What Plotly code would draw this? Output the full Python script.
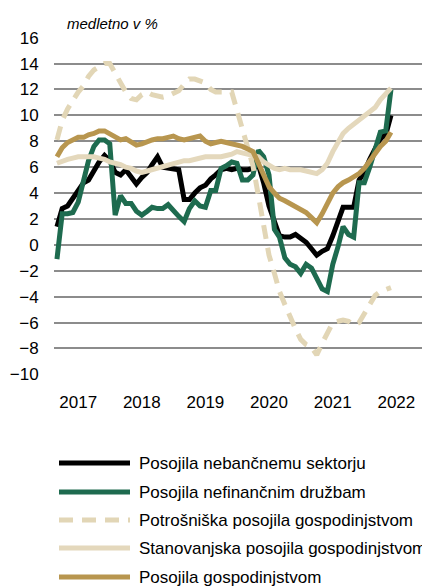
import plotly.graph_objects as go
import pandas as pd

# monthly observations, Sep 2016 - Dec 2021
months = pd.date_range("2016-09-01", periods=64, freq="MS").strftime("%Y-%m-%d").tolist()

year_ticks = ["2017-01-01", "2018-01-01", "2019-01-01", "2020-01-01", "2021-01-01", "2022-01-01"]
year_labels = ["2017", "2018", "2019", "2020", "2021", "2022"]
y_ticks = [-10, -8, -6, -4, -2, 0, 2, 4, 6, 8, 10, 12, 14, 16]

names = [
    "Posojila nebančnemu sektorju",
    "Posojila nefinančnim družbam",
    "Potrošniška posojila gospodinjstvom",
    "Stanovanjska posojila gospodinjstvom",
    "Posojila gospodinjstvom",
]

nebancni = [1.4, 2.8, 3.0, 3.6, 4.1, 4.8, 5.0, 5.8, 6.4, 6.9, 6.5, 5.6, 5.4, 5.8, 5.2, 4.7,
            5.2, 5.6, 6.2, 6.8, 6.0, 5.9, 5.9, 5.8, 3.5, 3.5, 4.0, 4.4, 4.6, 5.1, 5.4, 5.8,
            5.9, 5.8, 5.9, 5.8, 5.8, 5.9, 6.2, 4.8, 3.0, 1.8, 0.7, 0.6, 0.6, 0.8, 0.5, 0.2,
            -0.3, -0.8, -0.5, -0.3, 0.7, 2.0, 2.9, 2.9, 2.9, 5.0, 5.6, 6.6, 7.5, 8.2, 8.5, 10.0]

nefinancne = [-1.1, 2.4, 2.4, 2.5, 3.3, 4.8, 6.5, 7.6, 8.1, 8.1, 7.8, 2.3, 3.8, 3.2, 3.2, 2.6,
              2.3, 2.6, 2.9, 2.8, 2.8, 3.1, 2.6, 2.2, 1.8, 2.8, 3.4, 3.0, 2.9, 4.2, 4.2, 5.9,
              6.1, 6.4, 6.3, 5.0, 5.0, 5.4, 7.3, 6.8, 5.4, 1.2, 0.6, -1.0, -1.5, -1.7, -2.2, -1.5,
              -1.8, -2.6, -3.4, -3.6, -1.5, -0.1, 1.4, 0.8, 0.6, 4.8, 4.8, 6.0, 7.5, 8.7, 8.8, 12.0]

potrosniska = [8.1, 9.6, 10.5, 11.2, 11.8, 12.3, 13.0, 13.5, 13.8, 14.0, 14.0, 13.3, 12.5, 11.8, 11.3, 11.2,
               11.6, 11.8, 11.6, 11.5, 11.4, 11.5, 11.7, 11.9, 12.4, 12.8, 12.8, 12.6, 12.5, 12.0, 11.8, 11.8,
               11.8, 11.8, 10.4, 9.0, 7.6, 6.1, 3.8, 1.4, -0.8, -2.2, -3.6, -4.6, -5.6, -6.5, -7.3, -7.7,
               -7.9, -8.5, -7.6, -6.8, -6.0, -5.9, -5.8, -5.9, -6.2, -6.0, -5.3, -4.6, -3.9, -3.6, -3.4, -3.3]

stanovanjska = [6.3, 6.5, 6.6, 6.7, 6.8, 6.8, 6.8, 6.8, 6.7, 6.6, 6.4, 6.3, 6.2, 6.0, 5.9, 5.7,
                5.6, 5.7, 5.8, 6.0, 6.1, 6.2, 6.3, 6.4, 6.5, 6.5, 6.6, 6.7, 6.8, 6.8, 6.8, 6.8,
                6.9, 7.0, 7.2, 7.1, 7.0, 6.9, 6.8, 6.4, 6.1, 5.9, 5.8, 5.9, 5.8, 5.8, 5.8, 5.7,
                5.6, 5.5, 5.8, 6.3, 7.2, 8.0, 8.6, 9.0, 9.3, 9.6, 9.9, 10.3, 10.6, 11.2, 11.7, 12.1]

gospodinjstva = [6.8, 7.5, 7.9, 8.1, 8.3, 8.3, 8.5, 8.6, 8.8, 8.8, 8.6, 8.4, 8.1, 8.2, 7.9, 7.7,
                 7.8, 8.0, 8.1, 8.2, 8.2, 8.3, 8.4, 8.2, 8.1, 8.2, 8.3, 8.4, 8.0, 7.8, 7.9, 8.0,
                 7.9, 7.8, 7.7, 7.6, 7.4, 7.2, 6.3, 5.5, 4.5, 4.0, 3.6, 3.4, 3.2, 2.9, 2.7, 2.5,
                 2.1, 1.7, 2.4, 3.3, 4.0, 4.5, 4.8, 5.0, 5.2, 5.5, 5.9, 6.5, 7.1, 7.6, 8.0, 8.7]

series = [nebancni, nefinancne, potrosniska, stanovanjska, gospodinjstva]
colors = ["#000000", "#1e6b4f", "#e2d6b6", "#e4d8bc", "#b8964f"]
dashes = ["solid", "solid", "14px,9px", "solid", "solid"]

# the page body adds an 8px margin, so the figure is sized/placed to compensate
OFF = 8
W, H = 430 - OFF, 588 - OFF
L, R, T, B = 54 - OFF, 0, 37 - OFF, 588 - 375
FONT = "Liberation Sans, Arial, sans-serif"

fig = go.Figure()
for n, s, c, d in zip(names, series, colors, dashes):
    fig.add_trace(go.Scatter(x=months, y=s, name=n, mode="lines",
                             line=dict(color=c, width=5, dash=d), showlegend=False))

fig.update_layout(
    width=W, height=H,
    margin=dict(l=L, r=R, t=T, b=B, autoexpand=False),
    paper_bgcolor="white", plot_bgcolor="white",
    xaxis=dict(type="date", range=["2016-08-15", "2022-07-13"],
               tickvals=year_ticks, ticktext=year_labels,
               showgrid=False, zeroline=False, showline=False,
               ticks="outside", ticklen=12, tickcolor="rgba(0,0,0,0)",
               tickfont=dict(family=FONT, size=17, color="#000")),
    yaxis=dict(range=[-10.05, 16.05], tickvals=y_ticks,
               showgrid=True, gridcolor="#8c8c8c", gridwidth=2,
               zeroline=False, showline=False,
               ticks="outside", ticklen=11, tickcolor="rgba(0,0,0,0)",
               tickfont=dict(family=FONT, size=17, color="#000")),
)

pw = W - L - R
ph = H - T - B


def px_x(xp):
    return (xp - OFF - L) / pw


def px_y(yp):
    return (H - B - (yp - OFF)) / ph


fig.add_annotation(text="medletno v %", xref="paper", yref="paper",
                   x=px_x(65), y=px_y(23),
                   xanchor="left", yanchor="middle", showarrow=False,
                   font=dict(family=FONT, size=15, style="italic", color="#000"))

# legend drawn below the plot (long line samples like the original)
rows_px = [463, 492, 520, 548, 577]
for n, c, d, ypx in zip(names, colors, dashes, rows_px):
    yp = px_y(ypx)
    fig.add_shape(type="line", xref="paper", yref="paper",
                  x0=px_x(59), x1=px_x(130), y0=yp, y1=yp,
                  line=dict(color=c, width=5, dash=d))
    fig.add_annotation(text=n, xref="paper", yref="paper", x=px_x(137), y=yp,
                       xanchor="left", yanchor="middle", showarrow=False,
                       font=dict(family=FONT, size=17, color="#000"))

fig.write_html("out.html")
